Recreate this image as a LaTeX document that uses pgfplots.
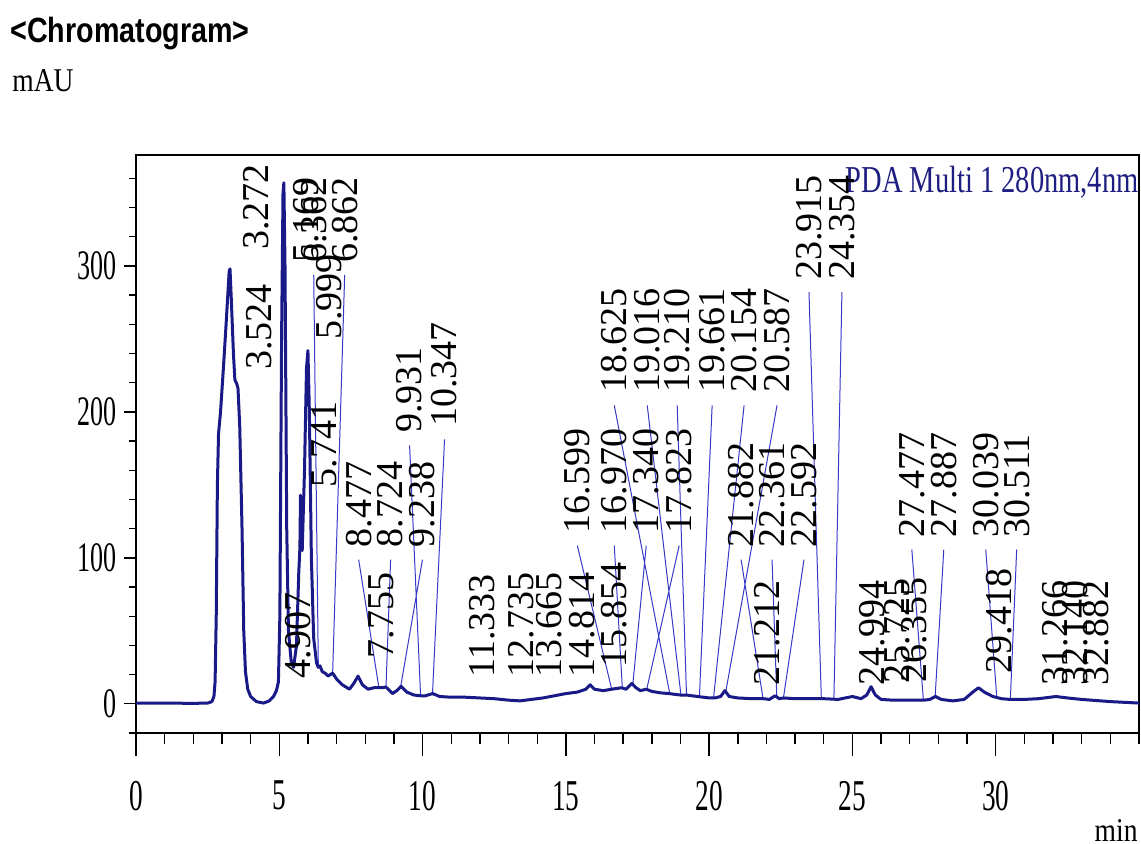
\documentclass[border=0pt]{standalone}
\usepackage{fontspec}
\setmainfont{Liberation Serif}
\newfontfamily\tickfont[FakeStretch=0.62]{Liberation Serif}
\newfontfamily\pdafont[FakeStretch=0.75]{Liberation Serif}
\newfontfamily\unitfont[FakeStretch=0.83]{Liberation Serif}
\newfontfamily\titlefont[FakeStretch=0.82]{Liberation Sans}
\newfontfamily\labfont{Liberation Serif}
\usepackage{pgfplots}
\pgfplotsset{compat=1.18}
\usepackage{pgfplotstable}

\definecolor{trace}{RGB}{25,25,135}
\definecolor{leader}{RGB}{55,55,200}
\definecolor{pda}{RGB}{30,30,130}

\pgfplotstableread{
x y
0 0.5
1 0.5
2 0.3
2.5 0.5
2.65 1.5
2.72 5
2.76 15
2.8 60
2.84 150
2.88 185
2.95 200
3.05 230
3.15 262
3.25 296
3.28 298
3.32 280
3.40 240
3.45 222
3.52 219
3.56 216
3.62 190
3.70 120
3.76 50
3.82 22
3.9 10
4.0 5
4.2 1.5
4.45 0.5
4.65 2
4.8 5
4.9 9
4.97 15
5.02 60
5.08 250
5.13 350
5.16 357
5.2 300
5.26 120
5.32 50
5.42 28
5.5 25
5.6 40
5.68 90
5.72 107
5.74 143
5.76 107
5.8 105
5.88 160
5.95 230
6.0 242
6.05 200
6.12 100
6.2 45
6.3 28
6.36 25
6.42 26
6.5 22
6.6 21
6.7 19
6.86 21
7.0 17
7.2 13
7.45 10
7.6 14
7.75 19
7.9 13
8.1 10
8.3 11
8.48 11
8.6 11
8.72 11.5
8.95 7
9.1 9
9.25 12
9.45 8
9.7 6
9.93 5.5
10.1 5.5
10.35 7
10.6 5
11 4.5
11.5 4.5
12 4
12.5 3.5
13 2.5
13.4 2
13.8 3
14.2 4
14.6 5.5
15.0 7
15.4 8
15.7 10
15.85 13
16.0 10
16.3 9
16.6 10
16.95 11
17.1 10
17.3 14
17.45 11
17.6 9
17.8 10
18.0 8.5
18.3 7.5
18.6 7
19.0 6
19.2 6
19.6 5
20.0 4
20.2 4
20.4 5
20.55 9
20.7 5
21.0 4
21.5 3.5
21.9 3.5
22.1 3
22.3 5.5
22.45 3.5
22.6 4
23.0 3.5
24.0 3.5
24.5 3
25.0 5
25.3 3.5
25.5 6
25.65 11.7
25.8 6
26.0 3
26.4 2.5
27.0 2.5
27.5 2.5
27.7 3
27.9 5
28.1 3
28.5 2
28.9 3
29.2 8
29.4 11
29.6 8
29.9 5
30.2 3.5
30.5 3
31.0 3
31.5 3.5
32.1 5
32.5 4
33 3
34 1.5
35 0.5
}\chrom

\pgfplotstableread{
x y lab
4.181 302.7 3.272
4.286 220.3 3.524
5.645 8.9 4.907
5.923 293.8 5.169
6.202 293.8 6.362
6.585 140.0 5.741
6.725 240.9 5.999
7.282 293.8 6.862
8.571 22.6 7.755
7.770 98.8 8.477
8.885 98.8 8.724
9.997 98.8 9.238
9.547 177.1 9.931
10.767 181.2 10.347
12.091 9.6 11.333
13.449 9.6 12.735
14.425 9.6 13.665
15.575 9.6 14.814
16.690 16.5 15.854
15.401 108.4 16.599
16.690 108.4 16.970
17.805 108.4 17.340
18.955 108.4 17.823
16.690 204.5 18.625
17.840 204.5 19.016
18.885 204.5 19.210
20.105 204.5 19.661
21.220 204.5 20.154
22.369 204.5 20.587
22.021 4.1 21.212
21.115 98.8 21.882
22.195 98.8 22.361
23.310 98.8 22.592
23.484 282.1 23.915
24.634 282.1 24.354
25.679 4.1 24.994
26.551 5.5 25.725
27.143 6.2 26.355
27.073 105.7 27.477
28.188 105.7 27.887
30.105 12.4 29.418
29.652 105.7 30.039
30.732 105.7 30.511
32.091 4.1 31.266
32.787 4.1 32.140
33.519 4.1 32.882
}\labels

\pgfplotstableread{
x y
6.202 293.8
6.362 26
nan nan
7.282 293.8
6.862 21
nan nan
7.770 98.8
8.477 11
nan nan
8.885 98.8
8.724 11.5
nan nan
9.997 98.8
9.238 12
nan nan
9.547 177.1
9.931 5.5
nan nan
10.767 181.2
10.347 7
nan nan
15.401 108.4
16.599 10
nan nan
16.690 108.4
16.970 11
nan nan
17.805 108.4
17.340 14
nan nan
18.955 108.4
17.823 10
nan nan
16.690 204.5
18.625 7
nan nan
17.840 204.5
19.016 6
nan nan
18.885 204.5
19.210 6
nan nan
20.105 204.5
19.661 5
nan nan
21.220 204.5
20.154 4
nan nan
22.369 204.5
20.587 9
nan nan
21.115 98.8
21.882 3.5
nan nan
22.195 98.8
22.361 5
nan nan
23.310 98.8
22.592 4
nan nan
23.484 282.1
23.915 3.5
nan nan
24.634 282.1
24.354 3.5
nan nan
27.073 105.7
27.477 2.5
nan nan
28.188 105.7
27.887 5
nan nan
29.652 105.7
30.039 4
nan nan
30.732 105.7
30.511 3
}\leaders

\begin{document}
\begin{tikzpicture}
\path[use as bounding box] (-68pt,-55.5pt) rectangle (502.5pt,366.5pt);
% main axis: frame, y ticks, data
\begin{axis}[
  at={(0pt,0pt)}, anchor=south west,
  scale only axis, width=501.5pt, height=289pt,
  xmin=0, xmax=35, ymin=-20, ymax=376,
  axis line style={line width=0.9pt, black},
  xtick=\empty,
  ytick={0,100,200,300},
  minor ytick={-20,0,20,...,360},
  tick pos=left, tick align=outside,
  major tick length=6pt, minor tick length=3.5pt,
  tick style={line width=0.7pt, black},
  ticklabel style={font=\tickfont\fontsize{21}{21}\selectfont},
  /pgf/number format/assume math mode=true,
  clip=false,
  unbounded coords=jump,
]
\addplot[leader, line width=0.5pt] table[x=x,y=y] {\leaders};
\addplot[trace, line width=1.5pt, line join=round] table[x=x,y=y] {\chrom};
\addplot[only marks, mark=none, nodes near coords, point meta=explicit symbolic,
  every node near coord/.append style={rotate=90, anchor=west, inner xsep=6pt, inner ysep=0pt,
  font=\labfont\fontsize{19}{19}\selectfont, text=black}]
  table[x=x,y=y,meta=lab] {\labels};
\node[anchor=base east, inner sep=0pt, text=pda, font=\pdafont\fontsize{19}{19}\selectfont]
  at (axis cs:35,350) {PDA Multi 1 280nm,4nm};
\end{axis}
% x axis with its own tick lengths
\begin{axis}[
  at={(0pt,0pt)}, anchor=south west,
  scale only axis, width=501.5pt, height=289pt,
  xmin=0, xmax=35, ymin=-20, ymax=376,
  axis x line*=bottom, hide y axis,
  axis line style={line width=0.9pt, black, -},
  xtick={0,5,...,30},
  minor xtick={0,1,...,35},
  tick align=outside,
  major tick length=11.5pt, minor tick length=5.5pt,
  tick style={line width=0.7pt, black},
  xticklabel style={font=\tickfont\fontsize{22}{22}\selectfont, yshift=-9pt},
  /pgf/number format/assume math mode=true,
]
\end{axis}
\node[anchor=base west, inner sep=0pt, font=\titlefont\bfseries\fontsize{17.5}{17.5}\selectfont] at (-63pt,345pt) {<Chromatogram>};
\node[anchor=base west, inner sep=0pt, font=\unitfont\fontsize{16.6}{16.6}\selectfont] at (-62pt,320.5pt) {mAU};
\node[anchor=base east, inner sep=0pt, font=\unitfont\fontsize{16.6}{16.6}\selectfont] at (501pt,-54.5pt) {min};
\end{tikzpicture}
\end{document}
